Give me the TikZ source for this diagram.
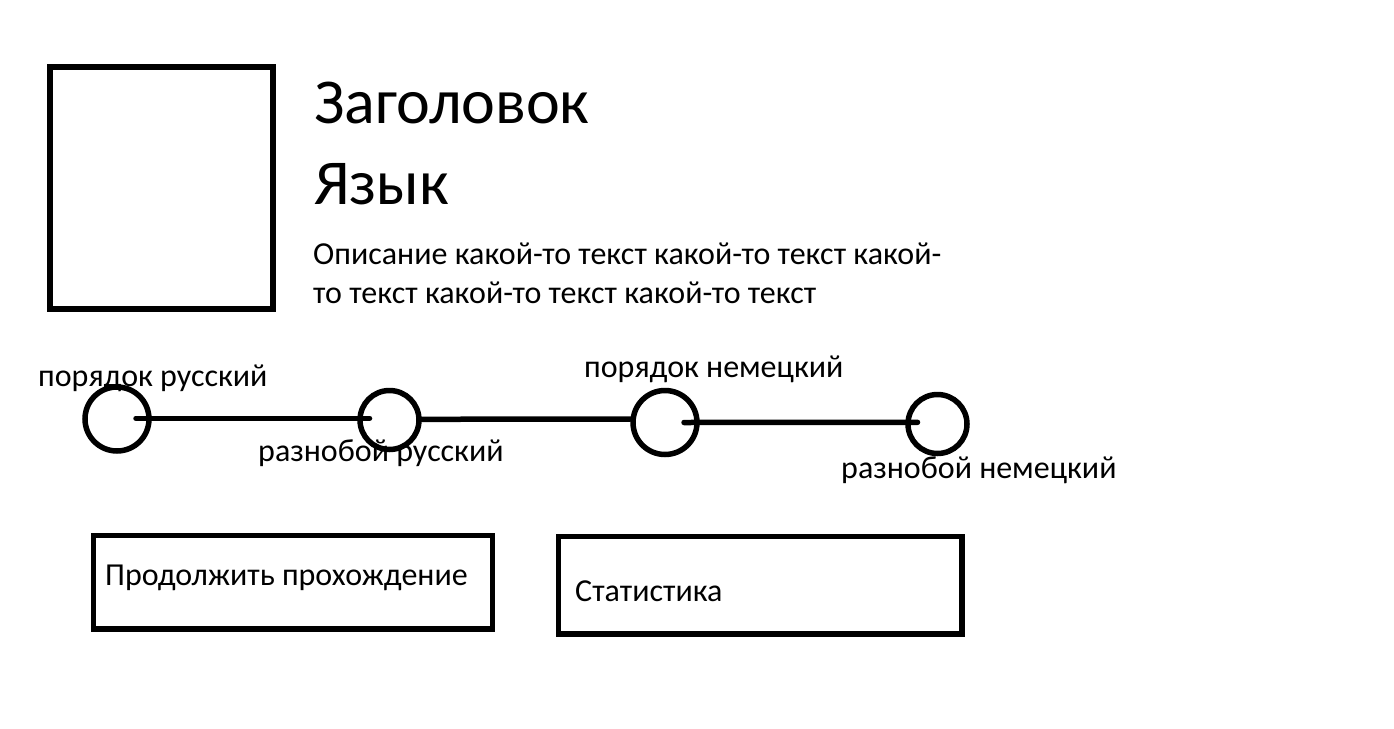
\documentclass[tikz,border=0pt]{standalone}
\usepackage{fontspec}
\setmainfont{Carlito}
\usepackage{tikz}
\usetikzlibrary{positioning}

\begin{document}
\begin{tikzpicture}[x=1pt, y=-1pt]
			\tikzstyle{Frame}	= [draw, line width=5.5pt]
			\tikzstyle{Vertex}	= [circle, draw, line width=5.5pt, inner sep=0pt]
			\tikzstyle{Text}	= [anchor=base west, inner sep=0pt, font=\fontsize{32}{39}\selectfont]
			\tikzstyle{Title}	= [anchor=base west, inner sep=0pt, font=\fontsize{64}{78}\selectfont]
			\tikzstyle{Link}	= [line width=5.5pt, line cap=round]
			
			\useasboundingbox (0, 0) rectangle (1394, 728);
			
			% header
			\draw (50, 67) rectangle (273, 309) [Frame];
			\node (title) at (314, 123) [Title] {Заголовок};
			\node (lang) at (314, 204) [Title] {Язык};
			\node (desc1) at (313, 264) [Text] {Описание какой-то текст какой-то текст какой-};
			\node (desc2) at (313, 303) [Text] {то текст какой-то текст какой-то текст};
			
			% modes
			\node (v1) at (117, 419) [Vertex, minimum size=64pt] {};
			\node (v2) at (389.5, 420) [Vertex, minimum size=59pt] {};
			\node (v3) at (665, 422.5) [Vertex, minimum size=64pt] {};
			\node (v4) at (937.5, 424) [Vertex, minimum size=59pt] {};
			
			\draw [-] ([xshift=19pt, yshift=0.7pt]v1.center) to ([xshift=-20pt, yshift=1.7pt]v2.center) [Link];
			\draw [-] ([yshift=0.7pt]v2.east) to ([yshift=3.5pt]v3.west) [Link];
			\draw [-] ([xshift=19pt]v3.center) to ([xshift=-20pt, yshift=1.7pt]v4.center) [Link];
			
			\node (ru1) at (38, 386) [Text] {порядок русский};
			\node (ru2) at (258, 461) [Text] {разнобой русский};
			\node (de1) at (584, 377) [Text] {порядок немецкий};
			\node (de2) at (841, 478) [Text] {разнобой немецкий};
			
			% buttons
			\draw (93.5, 535.5) rectangle (492.5, 629) [Frame];
			\node (go) at (105, 585) [Text] {Продолжить прохождение};
			\draw (558.5, 536.5) rectangle (962, 634) [Frame];
			\node (stat) at (575, 601) [Text] {Статистика};
		\end{tikzpicture}
\end{document}
